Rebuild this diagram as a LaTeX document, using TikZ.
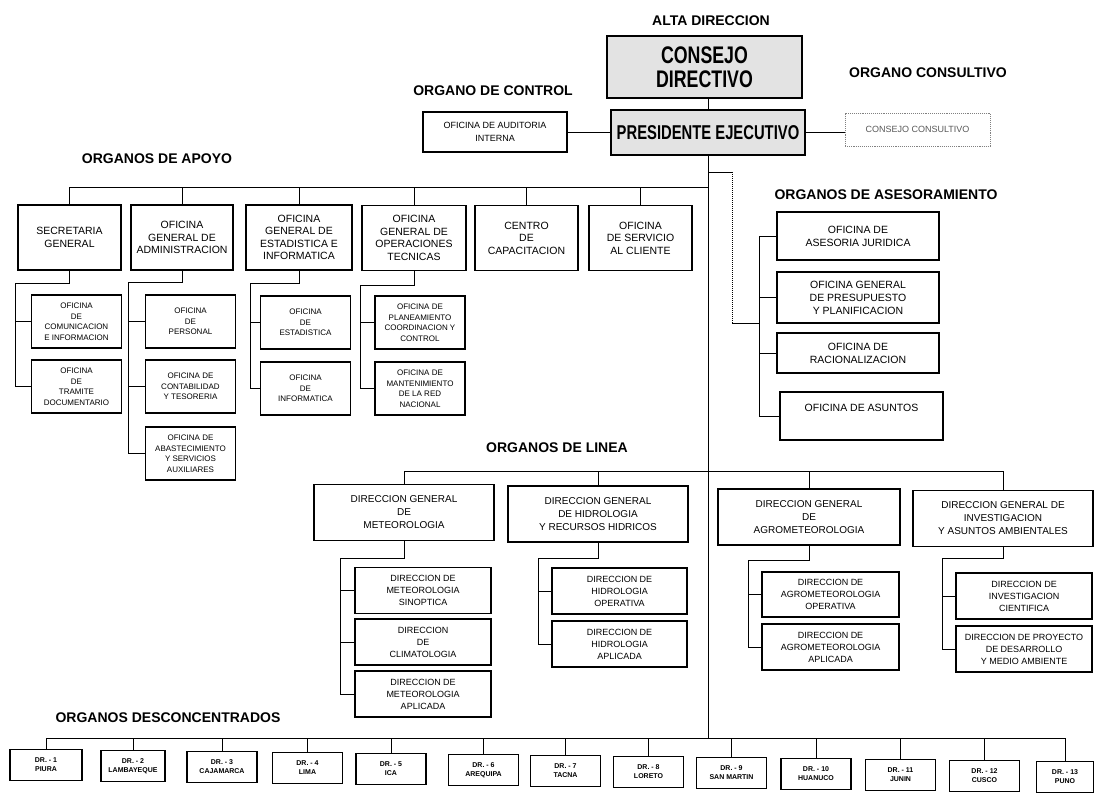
\documentclass[tikz,border=0pt]{standalone}
\usepackage{fontspec}
\setmainfont{Liberation Sans}
\newfontfamily\condfont[FakeStretch=0.74]{Liberation Sans}
\usetikzlibrary{positioning}

\begin{document}
\begin{tikzpicture}[x=1pt,y=-1pt,
  box/.style={draw,line width=1.1pt,align=center,inner sep=0pt,fill=white},
  topbox/.style={box,fill=gray!22},
  apoyobox/.style={box,minimum height=65pt,font=\fontsize{10.5}{12.5}\selectfont},
  subapoyo/.style={box,minimum width=90pt,minimum height=53pt,font=\fontsize{8}{10.5}\selectfont},
  asesorbox/.style={box,minimum width=162pt,font=\fontsize{10.5}{13}\selectfont},
  lineabox/.style={box,minimum width=180pt,minimum height=56pt,font=\fontsize{10}{13}\selectfont},
  sublinea/.style={box,minimum width=136pt,minimum height=46pt,font=\fontsize{9}{12}\selectfont},
  drbox/.style={box,minimum width=70pt,minimum height=31pt,font=\fontsize{7}{9}\selectfont\bfseries},
  titulo/.style={font=\fontsize{14}{16}\selectfont\bfseries},
  link/.style={line width=1pt}]
  \path[use as bounding box,fill=white] (0,0) rectangle (1094,796);
  \node[titulo] (tAlta) at (711,21) {ALTA DIRECCION};
  \node[topbox,minimum width=195pt,minimum height=62pt,font=\condfont\bfseries\fontsize{24}{24}\selectfont] (consejo) at (704.5,67) {CONSEJO\\DIRECTIVO};
  \node[topbox,minimum width=194pt,minimum height=45pt,font=\condfont\bfseries\fontsize{20}{20}\selectfont] (presidente) at (708,132.5) {PRESIDENTE EJECUTIVO};
  \node[titulo] (tControl) at (493,91) {ORGANO DE CONTROL};
  \node[box,minimum width=144pt,minimum height=40pt,font=\fontsize{9}{13}\selectfont] (auditoria) at (495,132) {OFICINA DE AUDITORIA\\INTERNA};
  \node[titulo] (tConsultivo) at (928,73) {ORGANO CONSULTIVO};
  \node[box,draw=gray,densely dotted,line width=0.8pt,text=gray!70!black,minimum width=145pt,minimum height=33pt,font=\fontsize{9}{11}\selectfont] (consultivo) at (917.5,129.5) {CONSEJO CONSULTIVO};
  \node[titulo] (tApoyo) at (157,159) {ORGANOS DE APOYO};
  \node[titulo] (tAseso) at (886,195) {ORGANOS DE ASESORAMIENTO};
  \node[titulo] (tLinea) at (557,448) {ORGANOS DE LINEA};
  \node[titulo] (tDescon) at (168,718) {ORGANOS DESCONCENTRADOS};

  \node[apoyobox,minimum width=103pt] (secretaria) at (69.5,237.5) {SECRETARIA\\GENERAL};
  \node[apoyobox,minimum width=102pt] (administracion) at (182,237.5) {OFICINA\\GENERAL DE\\ADMINISTRACION};
  \node[apoyobox,minimum width=106pt] (estadistica) at (299,237.5) {OFICINA\\GENERAL DE\\ESTADISTICA E\\INFORMATICA};
  \node[apoyobox,minimum width=104pt] (operaciones) at (414,238) {OFICINA\\GENERAL DE\\OPERACIONES\\TECNICAS};
  \node[apoyobox,minimum width=103pt] (capacitacion) at (526.5,238) {CENTRO\\DE\\CAPACITACION};
  \node[apoyobox,minimum width=103pt] (cliente) at (640.5,238) {OFICINA\\DE SERVICIO\\AL CLIENTE};

  \node[subapoyo] (comunicacion) at (76.5,321.5) {OFICINA\\DE\\COMUNICACION\\E INFORMACION};
  \node[subapoyo] (tramite) at (76.5,386.5) {OFICINA\\DE\\TRAMITE\\DOCUMENTARIO};
  \node[subapoyo] (personal) at (190.5,321.5) {OFICINA\\DE\\PERSONAL};
  \node[subapoyo] (contabilidad) at (190.5,386.5) {OFICINA DE\\CONTABILIDAD\\Y TESORERIA};
  \node[subapoyo] (abastecimiento) at (190.5,453.5) {OFICINA DE\\ABASTECIMIENTO\\Y SERVICIOS\\AUXILIARES};
  \node[subapoyo] (ofestadistica) at (305.5,322.5) {OFICINA\\DE\\ESTADISTICA};
  \node[subapoyo] (informatica) at (305.5,388.5) {OFICINA\\DE\\INFORMATICA};
  \node[subapoyo] (planeamiento) at (420,322.5) {OFICINA DE\\PLANEAMIENTO\\COORDINACION Y\\CONTROL};
  \node[subapoyo] (mantenimiento) at (420,388.5) {OFICINA DE\\MANTENIMIENTO\\DE LA RED\\NACIONAL};

  \node[asesorbox,minimum height=48pt] (juridica) at (858,236) {OFICINA DE\\ASESORIA JURIDICA};
  \node[asesorbox,minimum height=51pt] (presupuesto) at (858,297.5) {OFICINA GENERAL\\DE PRESUPUESTO\\Y PLANIFICACION};
  \node[asesorbox,minimum height=40pt] (racionalizacion) at (858,353) {OFICINA DE\\RACIONALIZACION};
  \node[asesorbox,minimum width=163pt,minimum height=48pt] (asuntos) at (861.5,416) {OFICINA DE ASUNTOS\\\strut};

  \node[lineabox] (meteorologia) at (404,512.5) {DIRECCION GENERAL\\DE\\METEOROLOGIA};
  \node[lineabox] (hidrologia) at (598,514) {DIRECCION GENERAL\\DE HIDROLOGIA\\Y RECURSOS HIDRICOS};
  \node[lineabox,minimum width=182pt] (agrometeo) at (809,517) {DIRECCION GENERAL\\DE\\AGROMETEOROLOGIA};
  \node[lineabox] (investigacion) at (1003,518.5) {DIRECCION GENERAL DE\\INVESTIGACION\\Y ASUNTOS AMBIENTALES};

  \node[sublinea] (sinoptica) at (423,590.5) {DIRECCION DE\\METEOROLOGIA\\SINOPTICA};
  \node[sublinea] (climatologia) at (423,642) {DIRECCION\\DE\\CLIMATOLOGIA};
  \node[sublinea] (metaplicada) at (423,694) {DIRECCION DE\\METEOROLOGIA\\APLICADA};
  \node[sublinea,minimum width=135pt] (hidoperativa) at (619.5,591) {DIRECCION DE\\HIDROLOGIA\\OPERATIVA};
  \node[sublinea,minimum width=135pt] (hidaplicada) at (619.5,644) {DIRECCION DE\\HIDROLOGIA\\APLICADA};
  \node[sublinea,minimum width=137pt,minimum height=45pt] (agroperativa) at (830.5,594.5) {DIRECCION DE\\AGROMETEOROLOGIA\\OPERATIVA};
  \node[sublinea,minimum width=137pt] (agraplicada) at (830.5,647) {DIRECCION DE\\AGROMETEOROLOGIA\\APLICADA};
  \node[sublinea] (cientifica) at (1024,596) {DIRECCION DE\\INVESTIGACION\\CIENTIFICA};
  \node[sublinea] (desarrollo) at (1024,649) {DIRECCION DE PROYECTO\\DE DESARROLLO\\Y MEDIO AMBIENTE};

  \node[drbox,minimum width=72pt] (dr1) at (46,765) {DR. - 1\\PIURA};
  \node[drbox,minimum width=64pt] (dr2) at (133,766) {DR. - 2\\LAMBAYEQUE};
  \node[drbox] (dr3) at (222,767) {DR. - 3\\CAJAMARCA};
  \node[drbox] (dr4) at (307.5,768) {DR. - 4\\LIMA};
  \node[drbox] (dr5) at (391,769) {DR. - 5\\ICA};
  \node[drbox] (dr6) at (483.5,770) {DR. - 6\\AREQUIPA};
  \node[drbox] (dr7) at (565.5,771) {DR. - 7\\TACNA};
  \node[drbox] (dr8) at (648.5,772) {DR. - 8\\LORETO};
  \node[drbox] (dr9) at (731.5,773) {DR. - 9\\SAN MARTIN};
  \node[drbox] (dr10) at (816,774) {DR. - 10\\HUANUCO};
  \node[drbox] (dr11) at (900.5,775) {DR. - 11\\JUNIN};
  \node[drbox] (dr12) at (984.5,776) {DR. - 12\\CUSCO};
  \node[drbox,minimum width=57pt] (dr13) at (1065,777) {DR. - 13\\PUNO};

  \coordinate (apoyo) at (708,187);
  \coordinate (asbrazo) at (732,172);
  \coordinate (ascodo) at (732,323);
  \coordinate (aseje) at (759,323);
  \coordinate (linea) at (708,471);
  \coordinate (descon) at (708,738);
  \coordinate (secx) at (15,283);
  \coordinate (admx) at (128,282);
  \coordinate (estx) at (250,283);
  \coordinate (opex) at (360,285);
  \coordinate (metx) at (340,558);
  \coordinate (hidx) at (538,558);
  \coordinate (agrx) at (748,560);
  \coordinate (invx) at (942,558);

  \draw[link] (presidente.north) -- (presidente.north |- consejo.south);
  \draw[link] (auditoria.east) -- (auditoria.east -| presidente.west);
  \draw[link] (presidente.east) -- (presidente.east -| consultivo.west);
  \draw[link] (presidente.south) -- (descon);

  \draw[link] (secretaria.north) |- (apoyo);
  \draw[link] (administracion.north) -- (administracion.north |- apoyo);
  \draw[link] (estadistica.north) -- (estadistica.north |- apoyo);
  \draw[link] (operaciones.north) -- (operaciones.north |- apoyo);
  \draw[link] (capacitacion.north) -- (capacitacion.north |- apoyo);
  \draw[link] (cliente.north) -- (cliente.north |- apoyo);

  \draw[link] (secretaria.south) |- (secx) |- (tramite.west);
  \draw[link] (comunicacion.west) -- (comunicacion.west -| secx);
  \draw[link] (administracion.south) |- (admx) |- (abastecimiento.west);
  \draw[link] (personal.west) -- (personal.west -| admx);
  \draw[link] (contabilidad.west) -- (contabilidad.west -| admx);
  \draw[link] (estadistica.south) |- (estx) |- (informatica.west);
  \draw[link] (ofestadistica.west) -- (ofestadistica.west -| estx);
  \draw[link] (operaciones.south) |- (opex) |- (mantenimiento.west);
  \draw[link] (planeamiento.west) -- (planeamiento.west -| opex);

  \draw[link] (asbrazo -| presidente.south) -- (asbrazo);
  \draw[link,densely dotted] (asbrazo) -- (ascodo);
  \draw[link] (ascodo) -- (aseje);
  \draw[link] (juridica.west) -- (juridica.west -| aseje) -- (asuntos.west -| aseje) -- (asuntos.west);
  \draw[link] (presupuesto.west) -- (presupuesto.west -| aseje);
  \draw[link] (racionalizacion.west) -- (racionalizacion.west -| aseje);

  \draw[link] (meteorologia.north) |- (linea) -| (investigacion.north);
  \draw[link] (hidrologia.north) -- (hidrologia.north |- linea);
  \draw[link] (agrometeo.north) -- (agrometeo.north |- linea);

  \draw[link] (meteorologia.south) |- (metx) |- (metaplicada.west);
  \draw[link] (sinoptica.west) -- (sinoptica.west -| metx);
  \draw[link] (climatologia.west) -- (climatologia.west -| metx);
  \draw[link] (hidrologia.south) |- (hidx) |- (hidaplicada.west);
  \draw[link] (hidoperativa.west) -- (hidoperativa.west -| hidx);
  \draw[link] (agrometeo.south) |- (agrx) |- (agraplicada.west);
  \draw[link] (agroperativa.west) -- (agroperativa.west -| agrx);
  \draw[link] (investigacion.south) |- (invx) |- (desarrollo.west);
  \draw[link] (cientifica.west) -- (cientifica.west -| invx);

  \draw[link] (dr1.north) |- (descon) -| (dr13.north);
  \draw[link] (dr2.north) -- (dr2.north |- descon);
  \draw[link] (dr3.north) -- (dr3.north |- descon);
  \draw[link] (dr4.north) -- (dr4.north |- descon);
  \draw[link] (dr5.north) -- (dr5.north |- descon);
  \draw[link] (dr6.north) -- (dr6.north |- descon);
  \draw[link] (dr7.north) -- (dr7.north |- descon);
  \draw[link] (dr8.north) -- (dr8.north |- descon);
  \draw[link] (dr9.north) -- (dr9.north |- descon);
  \draw[link] (dr10.north) -- (dr10.north |- descon);
  \draw[link] (dr11.north) -- (dr11.north |- descon);
  \draw[link] (dr12.north) -- (dr12.north |- descon);
\end{tikzpicture}
\end{document}
